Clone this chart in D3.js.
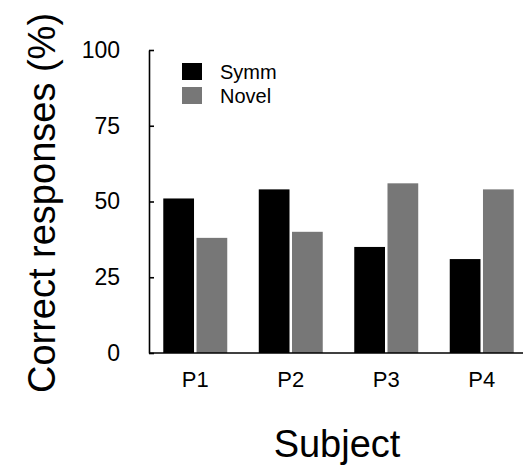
<!DOCTYPE html>
<html>
<head>
<meta charset="utf-8">
<script src="https://cdn.jsdelivr.net/npm/d3@7"></script>
<style>
  html, body { margin: 0; padding: 0; background: #fff; }
  svg { display: block; font-family: "Liberation Sans", Arial, Helvetica, sans-serif; }
</style>
</head>
<body>
<svg id="chart" width="523" height="468"></svg>
<script>
const categories = ["P1", "P2", "P3", "P4"];
const seriesNames = ["Symm", "Novel"];
const symmValues = [51, 54, 35, 31];
const novelValues = [38, 40, 56, 54];
const yTicks = [0, 25, 50, 75, 100];
const colors = ["#000000", "#777777"];

const svg = d3.select("#chart");
const axisX = 149, axisY0 = 353, axisY100 = 50;

const y = d3.scaleLinear().domain([0, 100]).range([axisY0, axisY100]);
const x0 = d3.scaleBand().domain(categories).range([148, 529])
  .paddingInner(0.33).paddingOuter(0.16);
const x1 = d3.scaleBand().domain(seriesNames).range([0, x0.bandwidth()])
  .paddingInner(0.075).paddingOuter(0);

const data = categories.map((c, i) => ({ cat: c, vals: [symmValues[i], novelValues[i]] }));

// bars
const groups = svg.append("g").selectAll("g").data(data).join("g")
  .attr("transform", d => `translate(${x0(d.cat)},0)`);
groups.selectAll("rect")
  .data(d => d.vals.map((v, j) => ({ key: seriesNames[j], v, j })))
  .join("rect")
  .attr("x", d => x1(d.key))
  .attr("width", x1.bandwidth())
  .attr("y", d => y(d.v))
  .attr("height", d => y(0) - y(d.v))
  .attr("fill", d => colors[d.j]);

// y axis
const yAxis = d3.axisLeft(y).tickValues(yTicks).tickSizeInner(-5).tickSizeOuter(0).tickPadding(29);
const gy = svg.append("g").attr("transform", `translate(${axisX},0)`).call(yAxis);
gy.select(".domain").attr("stroke-width", 1.6);
gy.selectAll(".tick line").attr("stroke-width", 1.6);
gy.selectAll(".tick text").attr("font-size", 23).attr("fill", "#000")
  .attr("font-family", "'Liberation Sans', Arial, sans-serif");

// x axis
const xAxis = d3.axisBottom(x0).tickSize(0).tickPadding(18);
const gx = svg.append("g").attr("transform", `translate(0,${axisY0})`).call(xAxis);
gx.select(".domain").attr("d", `M${axisX},0H523`).attr("stroke-width", 1.6);
gx.selectAll(".tick text").attr("font-size", 22).attr("fill", "#000")
  .attr("font-family", "'Liberation Sans', Arial, sans-serif");

// axis titles
svg.append("text")
  .attr("transform", "translate(55,203) rotate(-90)")
  .attr("text-anchor", "middle")
  .attr("font-size", 38)
  .attr("fill", "#000")
  .text("Correct responses (%)");

svg.append("text")
  .attr("x", 337)
  .attr("y", 457)
  .attr("text-anchor", "middle")
  .attr("font-size", 38)
  .attr("fill", "#000")
  .text("Subject");

// legend
const legend = svg.append("g").attr("transform", "translate(182,63)");
const li = legend.selectAll("g").data(seriesNames).join("g")
  .attr("transform", (d, i) => `translate(0,${i * 24})`);
li.append("rect").attr("width", 20).attr("height", 17).attr("fill", (d, i) => colors[i]);
li.append("text").attr("x", 38).attr("y", 16).attr("font-size", 20).attr("fill", "#000").text(d => d);
</script>
</body>
</html>
